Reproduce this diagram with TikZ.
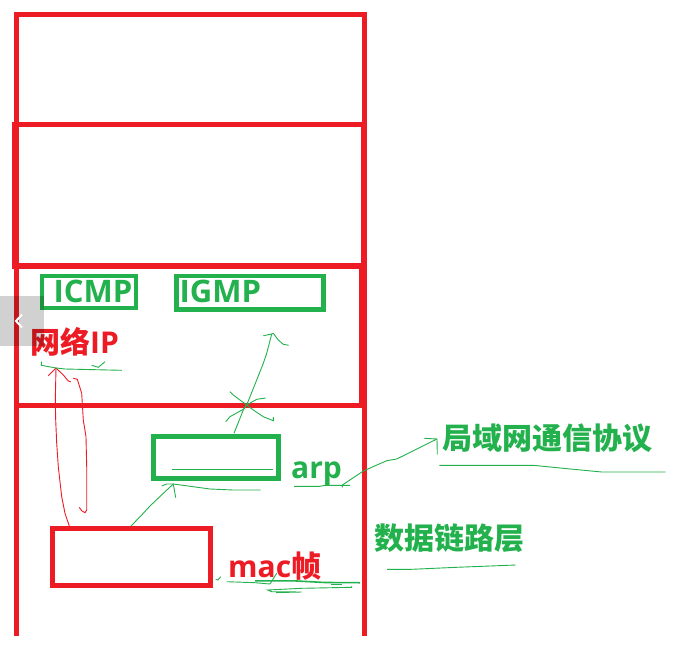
\documentclass[tikz,border=0pt]{standalone}
\usepackage{fontspec}
\setmainfont{Open Sans}
\newfontfamily\cjk{Noto Sans CJK SC}
\usepackage{tikz}
\usetikzlibrary{
    positioning
}
\definecolor{penred}{HTML}{ED1C24}
\definecolor{pengreen}{HTML}{22B14C}
\tikzset{
    x=1pt,y=-1pt,
    wall/.style={draw=penred,line width=5pt},
    redbox/.style={draw=penred,line width=5pt,minimum width=158pt,minimum height=57pt,inner sep=0pt},
    greenbox/.style={draw=pengreen,line width=4.5pt,inner sep=0pt},
    redtext/.style={text=penred,font=\fontsize{30}{30}\selectfont\bfseries,inner sep=0pt,anchor=base west},
    greentext/.style={text=pengreen,font=\fontsize{30}{30}\selectfont\bfseries,inner sep=0pt,anchor=base west},
    greenpen/.style={draw=pengreen,line width=0.9pt},
    redpen/.style={draw=penred,line width=0.9pt},
}
\begin{document}
\begin{tikzpicture}
    \useasboundingbox (0,0) rectangle (694,670);
    % layers
    \draw[wall] (16.5,636) -- (16.5,14.5) -- (364.5,14.5) -- (364.5,122);
    \draw[wall] (12,124.3) -- (364,124.3);
    \draw[wall,line width=7pt] (15.5,122) -- (15.5,268.8);
    \draw[wall,line width=6pt] (364,122) -- (364,266);
    \draw[wall,line width=6.3pt] (12,265.8) -- (364,265.8);
    \draw[wall,line width=8pt] (363,266) -- (363,405);
    \draw[wall] (16.5,405.2) -- (364,405.2);
    \draw[wall] (364.5,405) -- (364.5,636);
    % boxes
    \node[greenbox,minimum width=94pt,minimum height=32pt] (icmpbox) at (89,292) {};
    \node[greenbox,minimum width=147pt,minimum height=33.5pt] (igmpbox) at (250,292.7) {};
    \node[greenbox,line width=5pt,minimum width=125pt,minimum height=42pt] (arpbox) at (216,457.5) {};
    \node[redbox] (macbox) at (131.5,557) {};
    % labels
    \node[greentext,font=\fontsize{31}{31}\selectfont\bfseries] (icmp) at (53.5,302) {ICMP};
    \node[greentext,font=\fontsize{31}{31}\selectfont\bfseries] (igmp) at (179.5,302) {IGMP};
    \node[redtext] (ip) at (30,353) {{\cjk\bfseries 网络}IP};
    \node[greentext] (arp) at (291,478) {arp};
    \node[redtext] (mac) at (228,577) {mac{\cjk\bfseries 帧}};
    \node[greentext] (lan) at (442.5,449) {\cjk\bfseries 局域网通信协议};
    \node[greentext] (link) at (374.5,549) {\cjk\bfseries 数据链路层};
    % hand strokes
    \coordinate (ipmark) at (56,368);
    \coordinate (igmptip) at (271.7,334);
    \coordinate (arptip) at (173.3,484);
    \coordinate (lantip) at (437,439);
    \draw[redpen] (69.3,526) -- (65,513.3) -- (61.7,496.7) -- (58.3,466.7) -- (56.7,443.3) -- (55.7,420) -- (55.3,400) -- (ipmark);
    \draw[redpen] (48.3,375.7) -- (ipmark) -- (63.3,375) -- (68.3,381) -- (70.7,381.7);
    \draw[redpen] (73.3,378.3) -- (77.3,379.3) -- (81.7,393.3) -- (83.3,420) -- (86,436.7) -- (86.7,466.7) -- (86.7,510) -- (85,512.7) -- (81.7,510.7) -- (79.3,507.3);
    \draw[greenpen] (41.3,361.7) -- (41.3,365.3) -- (ipmark) -- (65,369) -- (122,370.3);
    \draw[greenpen] (91.7,365.3) -- (98.3,367.3) -- (105,361.7);
    \draw[greenpen] (234,433.3) -- (243.3,410) -- (246.7,405) -- (256.7,380) -- (263.3,363.3) -- (266.7,353.3) -- (igmptip);
    \draw[greenpen] (263.3,335.7) -- (igmptip) -- (273.3,333.3) -- (278.3,340) -- (283.3,344.3) -- (288.7,345.3);
    \draw[greenpen] (230,391.7) -- (233.3,395) -- (246.7,405) -- (253.3,410) -- (263.3,416.7) -- (273.3,420.7) -- (273.3,417);
    \draw[greenpen] (265.7,398) -- (256.7,399.3) -- (246.7,405) -- (243.3,409.3) -- (230,416.7) -- (225.7,421.7);
    \draw[greenpen] (131,526) -- (141.7,515) -- (150,506) -- (163.3,493.3) -- (arptip);
    \draw[greenpen] (161.7,486) -- (166.7,484) -- (arptip) -- (175.7,497.7);
    \draw[greenpen] (arptip) -- (210,489) -- (233.3,490) -- (260.7,490);
    \draw[greenpen] (172.3,469.3) -- (272.7,469.3);
    \draw[greenpen] (294,486.3) -- (320,486.3) -- (325,485.3) -- (350,485.3);
    \draw[greenpen] (342.3,487.3) -- (342.3,485) -- (363.3,471) -- (386.7,460.7) -- (396.7,459) -- (lantip);
    \draw[greenpen] (424.3,438.3) -- (lantip) -- (437.3,454.3);
    \draw[greenpen] (439.3,465.3) -- (533.3,465.3) -- (563.3,468.3) -- (601.7,472) -- (665.7,472);
    \draw[greenpen] (387,569.3) -- (411.7,569.3) -- (456.7,567.3) -- (515.7,565);
    \draw[greenpen] (215.7,579.3) -- (218,580) -- (220.7,576.7);
    % scribble under mac
    \draw[greenpen] (226.7,581.7) -- (255,582.7) -- (270,584) -- (276.7,573.3);
    \draw[greenpen,line width=1.6pt] (255,580.9) -- (295,580.9) -- (325,582.5) -- (360,582.7);
    \draw[greenpen] (331,584) -- (341.7,584);
    \draw[greenpen] (351.7,586) -- (351.7,587.3) -- (301.7,588.3) -- (267.7,590) -- (271.7,591.7) -- (301.7,592) -- (276,592.6);
    % page tab
    \fill[black,opacity=.18] (0,296) rectangle (44,346);
    \draw[white,line width=2pt] (22,314.5) -- (16,321) -- (22,327.5);
\end{tikzpicture}
\end{document}
